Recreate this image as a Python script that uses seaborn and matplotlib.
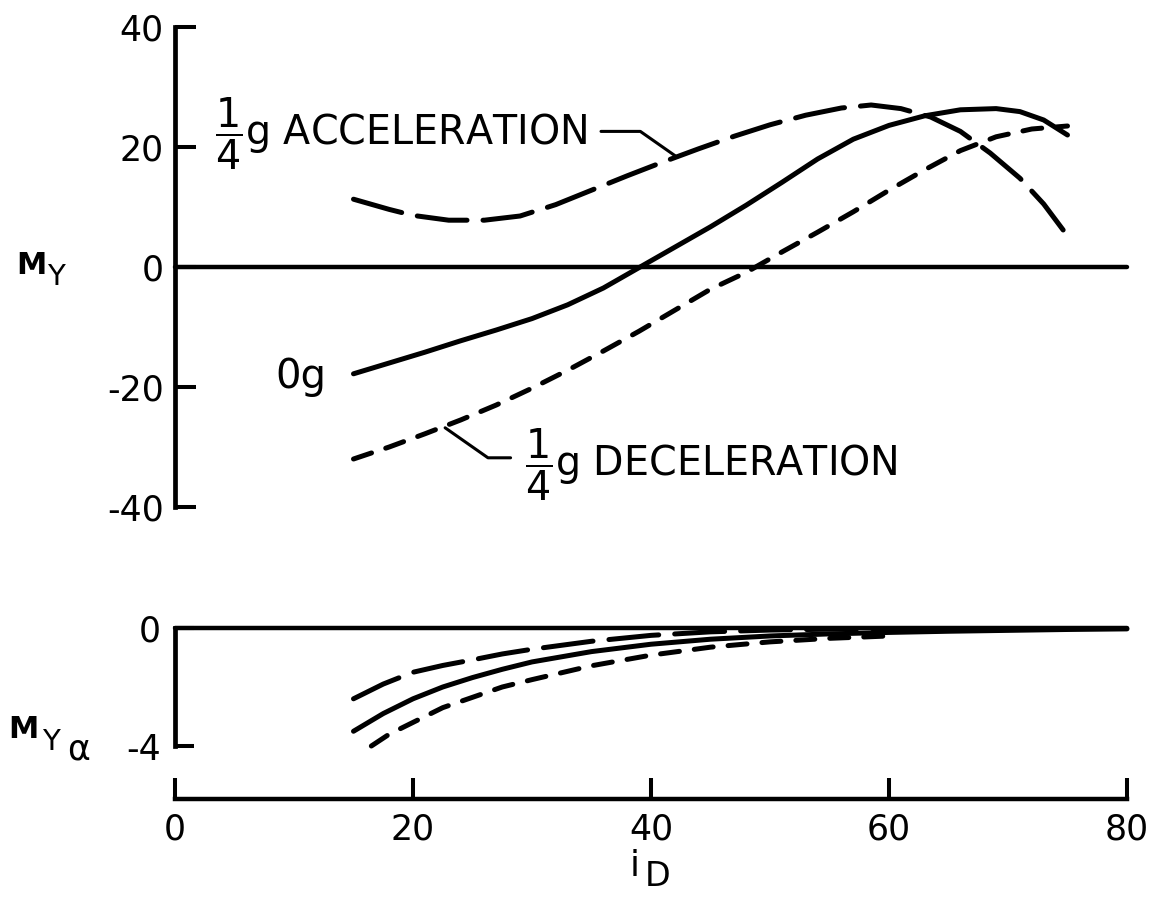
import numpy as np
import pandas as pd
import matplotlib
matplotlib.use("Agg")
import matplotlib.pyplot as plt
import seaborn as sns

# ---------------- data ----------------
# Upper panel: M_Y versus i_D
og_x = [15, 18, 21, 24, 27, 30, 33, 36, 39, 42, 45, 48, 51, 54, 57, 60, 63, 66, 69, 71, 73, 75]
og_y = [-17.8, -16.0, -14.2, -12.3, -10.5, -8.6, -6.3, -3.5, -0.1, 3.3, 6.7, 10.3, 14.1, 18.0, 21.3,
        23.6, 25.2, 26.2, 26.4, 25.9, 24.5, 22.0]

acc_x = [15, 18, 20, 23, 26, 29, 32, 35, 38, 41, 44, 47, 50, 53, 56, 58.5, 61, 63.5, 66, 68.5, 71, 73, 75]
acc_y = [11.3, 9.6, 8.6, 7.8, 7.8, 8.5, 10.4, 12.8, 15.2, 17.5, 19.7, 21.8, 23.7, 25.3, 26.5, 27.0,
         26.4, 25.0, 22.6, 19.0, 14.8, 10.5, 5.2]

dec_x = [15, 18, 21, 24, 27, 30, 33, 36, 39, 42, 45, 48, 51, 54, 57, 60, 63, 66, 69, 72, 75]
dec_y = [-32.0, -30.0, -27.8, -25.5, -23.0, -20.2, -17.2, -14.0, -10.7, -7.2, -3.7, -0.9, 2.5, 5.8,
         9.2, 12.8, 16.2, 19.4, 21.7, 23.0, 23.5]

# Lower panel: M_Y_alpha versus i_D
og_a_x = [15, 17.5, 20, 22.5, 25, 27.5, 30, 35, 40, 45, 50, 55, 60, 65, 70, 75, 80]
og_a_y = [-3.5, -2.9, -2.4, -2.0, -1.68, -1.4, -1.15, -0.8, -0.55, -0.38, -0.27, -0.2, -0.15,
          -0.11, -0.08, -0.05, -0.03]

acc_a_x = [15, 17.5, 20, 22.5, 25, 27.5, 30, 35, 40, 45, 50, 55, 60]
acc_a_y = [-2.4, -1.9, -1.5, -1.27, -1.08, -0.88, -0.72, -0.45, -0.25, -0.13, -0.07, -0.04, -0.02]

dec_a_x = [16.5, 18, 20, 22.5, 25, 27.5, 30, 35, 40, 45, 50, 55, 60]
dec_a_y = [-4.0, -3.6, -3.2, -2.7, -2.35, -2.0, -1.75, -1.28, -0.92, -0.65, -0.47, -0.35, -0.27]

y_ticks_top = [-40, -20, 0, 20, 40]
y_ticks_bot = [-4, 0]
x_ticks = [0, 20, 40, 60, 80]

# ---------------- style ----------------
sns.set_theme(style="white")
plt.rcParams["font.family"] = ["DejaVu Sans"]
plt.rcParams["mathtext.fontset"] = "dejavusans"
plt.rcParams["axes.unicode_minus"] = False
plt.rcParams["text.color"] = "black"

W, H = 1161, 897
fig = plt.figure(figsize=(W / 100, H / 100), dpi=100)
fig.patch.set_facecolor("white")


def fx(px):
    return px / W


def fy(py):
    return 1 - py / H


ax1 = fig.add_axes([fx(175), fy(507), (1127 - 175) / W, 480 / H])
ax2 = fig.add_axes([fx(175), fy(746), (1127 - 175) / W, 118 / H])

LW = 3.6
dash_styles = {"0g": "", "acc": (10.0, 3.2), "dec": (3.8, 3.0)}

top = pd.concat([
    pd.DataFrame({"x": og_x, "y": og_y, "s": "0g"}),
    pd.DataFrame({"x": acc_x, "y": acc_y, "s": "acc"}),
    pd.DataFrame({"x": dec_x, "y": dec_y, "s": "dec"}),
], ignore_index=True)
bot = pd.concat([
    pd.DataFrame({"x": og_a_x, "y": og_a_y, "s": "0g"}),
    pd.DataFrame({"x": acc_a_x, "y": acc_a_y, "s": "acc"}),
    pd.DataFrame({"x": dec_a_x, "y": dec_a_y, "s": "dec"}),
], ignore_index=True)

for ax, df in ((ax1, top), (ax2, bot)):
    ax.axhline(0, color="black", lw=3.2, zorder=1, solid_capstyle="round")
    sns.lineplot(data=df, x="x", y="y", style="s", dashes=dash_styles, color="black",
                 linewidth=LW, estimator=None, sort=False, legend=False, ax=ax, zorder=3)
    for ln in ax.lines:
        ln.set_dash_capstyle("round")
        ln.set_solid_capstyle("round")
        ln.set_solid_joinstyle("round")
        ln.set_clip_on(False)
    ax.set_facecolor("white")
    ax.set_xlim(0, 80)
    ax.set_xlabel("")
    ax.set_ylabel("")
    for sp in ("top", "right"):
        ax.spines[sp].set_visible(False)
    ax.spines["left"].set_linewidth(3.4)
    ax.spines["left"].set_color("black")

# upper panel axes
ax1.set_ylim(-40, 40)
ax1.spines["bottom"].set_visible(False)
ax1.spines["left"].set_bounds(-40, 40)
ax1.set_xticks([])
ax1.set_yticks(y_ticks_top)
ax1.set_yticklabels([str(v) for v in y_ticks_top])
ax1.tick_params(axis="y", direction="in", length=15, width=2.9, labelsize=25, pad=8,
                colors="black", left=True)

# lower panel axes
ax2.set_ylim(-4, 0)
ax2.spines["left"].set_bounds(-4, 0)
ax2.spines["bottom"].set_position(("outward", 38))
ax2.spines["bottom"].set_bounds(0, 80)
ax2.spines["bottom"].set_linewidth(3.2)
ax2.spines["bottom"].set_color("black")
ax2.set_yticks(y_ticks_bot)
ax2.set_yticklabels([str(v) for v in y_ticks_bot])
ax2.set_xticks(x_ticks)
ax2.set_xticklabels([str(v) for v in x_ticks])
ax2.tick_params(axis="y", direction="in", length=14, width=2.9, labelsize=25, pad=10,
                colors="black", left=True)
ax2.tick_params(axis="x", direction="in", length=15, width=2.9, labelsize=25, pad=10,
                colors="black", bottom=True)

# ---------------- curve labels ----------------
ax1.text(3.4, 20.3, r"$\dfrac{1}{4}$g ACCELERATION", fontsize=28.5, ha="left", va="baseline",
         color="black")
ax1.annotate("", xy=(42.2, 18.3), xytext=(35.8, 22.6),
             arrowprops=dict(arrowstyle="-", color="black", lw=2.2, shrinkA=0, shrinkB=0,
                             connectionstyle="angle,angleA=0,angleB=-35,rad=0"))

ax1.text(29.4, -34.8, r"$\dfrac{1}{4}$g DECELERATION", fontsize=28.5, ha="left", va="baseline",
         color="black")
ax1.annotate("", xy=(22.7, -26.8), xytext=(28.2, -31.8),
             arrowprops=dict(arrowstyle="-", color="black", lw=2.2, shrinkA=0, shrinkB=0,
                             connectionstyle="angle,angleA=0,angleB=-35,rad=0"))

ax1.text(8.4, -20.2, "0g", fontsize=29, ha="left", va="baseline", color="black")

# ---------------- axis titles ----------------
fig.text(fx(16), fy(274), "M", fontsize=22, ha="left", va="baseline", fontweight="bold",
         color="black")
fig.text(fx(47), fy(285), "Y", fontsize=21, ha="left", va="baseline", color="black")

fig.text(fx(8), fy(738), "M", fontsize=22, ha="left", va="baseline", fontweight="bold",
         color="black")
fig.text(fx(42), fy(750), "Y", fontsize=21, ha="left", va="baseline", color="black")
fig.text(fx(67), fy(760), "α", fontsize=25, ha="left", va="baseline", color="black")

fig.text(fx(630), fy(876), "i", fontsize=26, ha="left", va="baseline", color="black")
fig.text(fx(645), fy(886), "D", fontsize=24, ha="left", va="baseline", color="black")

fig.savefig("out.png", dpi=100, facecolor="white")
